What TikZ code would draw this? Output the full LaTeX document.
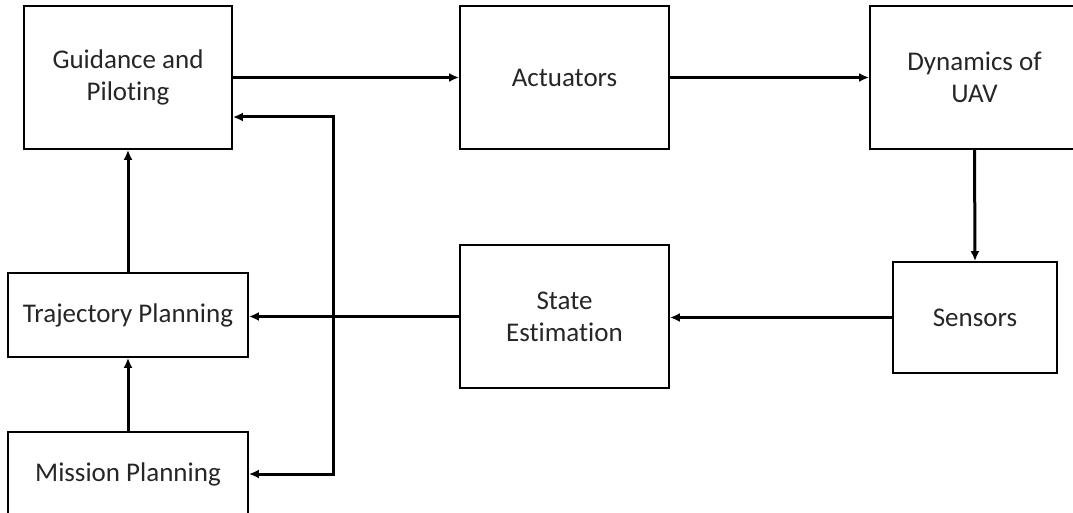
\documentclass[tikz,border=0pt]{standalone}
\usepackage{fontspec}
\setmainfont{Carlito}[Ligatures=NoCommon]
\usetikzlibrary{arrows.meta}
\begin{document}
\begin{tikzpicture}[x=1pt,y=-1pt,
  block/.style={draw, line width=1.8pt, inner sep=0pt, align=center,
    text=black!85, font=\fontsize{27}{32}\selectfont},
  tip/.tip={Latex[length=10pt,width=9pt]},
  flow/.style={line width=3pt, -tip},
  both/.style={line width=3pt, tip-tip},
]
\useasboundingbox (0,0) rectangle (1073,513);
\clip (0,0) rectangle (1073,513);

% blocks of the control loop
\node[block, minimum width=208pt, minimum height=143pt] (guid)  at (128,77.5)    {Guidance and\\Piloting};
\node[block, minimum width=209pt, minimum height=143pt] (act)   at (564.5,77.5)  {Actuators};
\node[block, minimum width=209pt, minimum height=143pt] (dyn)   at (974.5,77.5)  {Dynamics of\\UAV};
\node[block, minimum width=164pt, minimum height=111pt] (sens)  at (975,317.5)   {Sensors};
\node[block, minimum width=209pt, minimum height=143pt] (state) at (564.5,316.5) {State\\Estimation};
\node[block, minimum width=240pt, minimum height=84pt]  (traj)  at (128,315)     {Trajectory Planning};
\node[block, minimum width=240pt, minimum height=84pt]  (miss)  at (128,474)     {Mission Planning};

% forward path
\draw[flow] (guid.east) -- (act.west);
\draw[flow] (act.east) -- (dyn.west);
\draw[flow] (dyn.south) -- (sens.north);
\draw[flow] (sens.west) -- (sens.west -| state.east);
\draw[flow] (state.west) -- (state.west -| traj.east);

% planning chain
\draw[flow] (miss.north) -- (traj.south);
\draw[flow] (traj.north) -- (guid.south);

% shared link between guidance and mission planning
\coordinate (bustop) at (333,117);
\coordinate (busbot) at (333,474);
\draw[both] (bustop -| guid.east) -- (bustop) -- (busbot) -- (busbot -| miss.east);
\end{tikzpicture}
\end{document}
